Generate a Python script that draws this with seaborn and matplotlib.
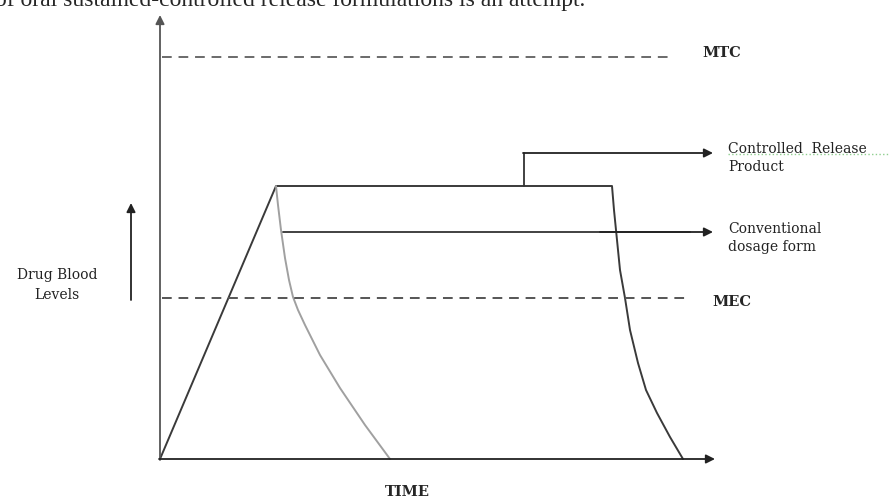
import matplotlib
matplotlib.use("Agg")
import matplotlib.pyplot as plt
import pandas as pd
import seaborn as sns

# curve points (pixel-like units, y grows downwards)
cr_time = [160, 276, 612, 614, 617, 620, 625, 630, 638, 646, 657, 670, 683]
cr_level = [459, 186, 186, 210, 240, 270, 298, 330, 363, 390, 413, 437, 459]

conv_time = [276, 278, 281, 285, 289, 293, 298, 305, 320, 340, 365, 390]
conv_level = [186, 205, 230, 258, 280, 297, 310, 325, 355, 388, 425, 459]

mtc_level = 57
mec_level = 298

sns.set_style("white")
plt.rcParams['font.family'] = ['DejaVu Serif']

fig = plt.figure(figsize=(8.89, 5.01), dpi=100)
ax = fig.add_axes([0, 0, 1, 1])
ax.set_xlim(0, 889)
ax.set_ylim(501, 0)
ax.axis('off')

cr = pd.DataFrame({'t': cr_time, 'c': cr_level})
conv = pd.DataFrame({'t': conv_time, 'c': conv_level})
sns.lineplot(data=cr, x='t', y='c', sort=False, color='#3a3a3a', lw=1.4, ax=ax)
sns.lineplot(data=conv, x='t', y='c', sort=False, color='#a0a0a0', lw=1.4, ax=ax)

# MTC / MEC dashed lines
ax.plot([162, 672], [mtc_level, mtc_level], ls=(0, (5, 3.5)), color='#6a6a6a', lw=1.4)
ax.plot([162, 685], [mec_level, mec_level], ls=(0, (5, 3.5)), color='#555555', lw=1.4)
ax.text(702, 53, 'MTC', fontsize=10.5, fontweight='bold', va='center')
ax.text(712, 302, 'MEC', fontsize=10.5, fontweight='bold', va='center')

arrow = dict(arrowstyle='-|>', color='#222222', lw=1.3, mutation_scale=13, shrinkA=0, shrinkB=0)

# axes
ax.annotate('', xy=(160, 15), xytext=(160, 460), arrowprops=dict(arrow, color='#555555'))
ax.annotate('', xy=(715, 459), xytext=(159, 459), arrowprops=arrow)

# small up arrow with label
ax.annotate('', xy=(131, 203), xytext=(131, 300), arrowprops=arrow)
ax.text(57, 285, 'Drug Blood\nLevels', fontsize=10, ha='center', va='center',
        linespacing=1.5, color='#222222')

# conventional dosage form pointer
ax.plot([283, 690], [232, 232], color='#333333', lw=1.3)
ax.annotate('', xy=(713, 232), xytext=(600, 232), arrowprops=arrow)
ax.text(728, 238, 'Conventional\ndosage form', fontsize=10, va='center',
        linespacing=1.42, color='#222222')

# controlled release pointer
ax.plot([524, 524], [186, 153], color='#333333', lw=1.3)
ax.annotate('', xy=(713, 153), xytext=(523, 153), arrowprops=arrow)
ax.text(728, 158, 'Controlled  Release\nProduct', fontsize=10, va='center',
        linespacing=1.3, color='#222222')
ax.plot([728, 889], [154, 154], ls=':', color='#8fcf8f', lw=1.0)

ax.text(407, 492, 'TIME', fontsize=10.5, fontweight='bold', ha='center', va='center')

# caption clipped at the top of the picture
ax.text(-5, 6, 'of oral sustained-controlled release formulations is an attempt.',
        fontsize=17, va='baseline', ha='left', family='Liberation Serif')

fig.savefig('out.png', dpi=100)
